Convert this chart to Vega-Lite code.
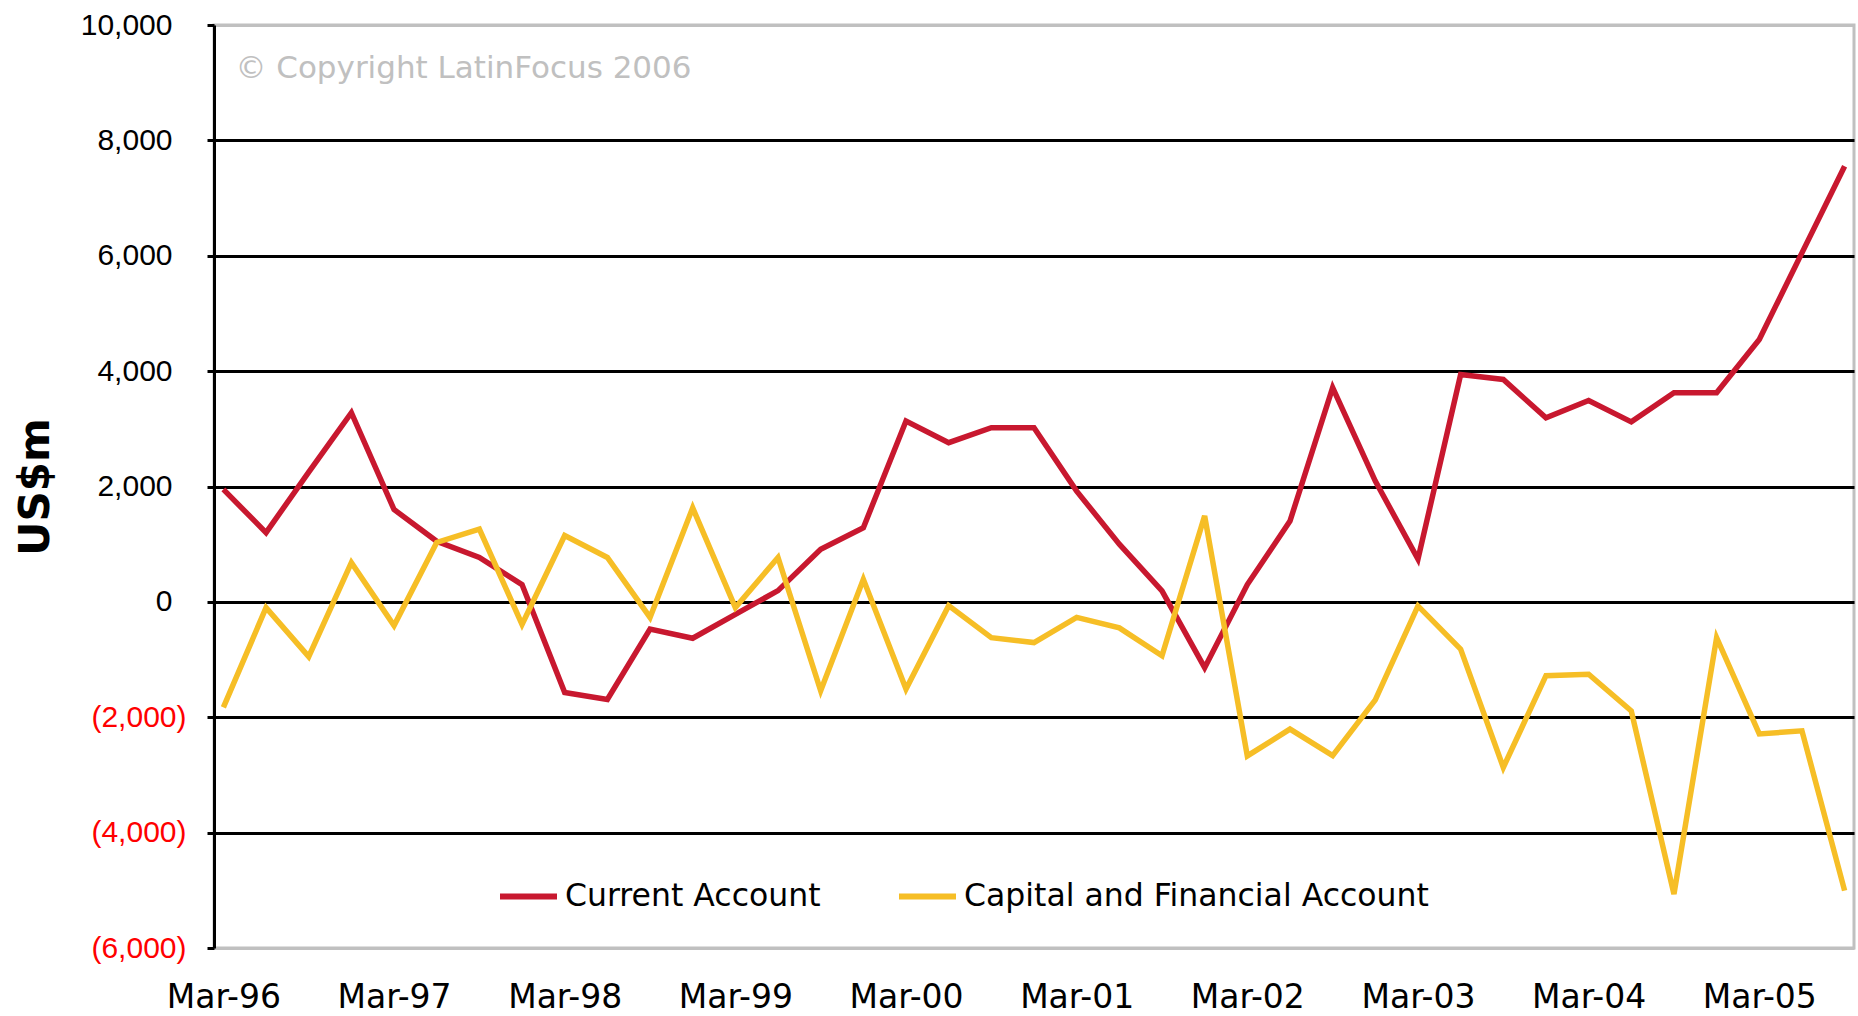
{
  "$schema": "https://vega.github.io/schema/vega-lite/v6.json",
  "autosize": {"type": "none"},
  "width": 1640,
  "height": 923,
  "padding": {"left": 214, "top": 25, "right": 4, "bottom": 68},
  "background": "white",
  "config": {
    "view": {"stroke": "#C0C0C0", "strokeWidth": 3},
    "font": "DejaVu Sans"
  },
  "data": {
    "values": [
      {"quarter": "Mar-96", "series": "Current Account", "value": 1950},
      {"quarter": "Jun-96", "series": "Current Account", "value": 1200},
      {"quarter": "Sep-96", "series": "Current Account", "value": 2250},
      {"quarter": "Dec-96", "series": "Current Account", "value": 3280},
      {"quarter": "Mar-97", "series": "Current Account", "value": 1600},
      {"quarter": "Jun-97", "series": "Current Account", "value": 1050},
      {"quarter": "Sep-97", "series": "Current Account", "value": 770},
      {"quarter": "Dec-97", "series": "Current Account", "value": 300},
      {"quarter": "Mar-98", "series": "Current Account", "value": -1570},
      {"quarter": "Jun-98", "series": "Current Account", "value": -1690},
      {"quarter": "Sep-98", "series": "Current Account", "value": -470},
      {"quarter": "Dec-98", "series": "Current Account", "value": -630},
      {"quarter": "Mar-99", "series": "Current Account", "value": -215},
      {"quarter": "Jun-99", "series": "Current Account", "value": 195},
      {"quarter": "Sep-99", "series": "Current Account", "value": 910},
      {"quarter": "Dec-99", "series": "Current Account", "value": 1285},
      {"quarter": "Mar-00", "series": "Current Account", "value": 3135},
      {"quarter": "Jun-00", "series": "Current Account", "value": 2760},
      {"quarter": "Sep-00", "series": "Current Account", "value": 3020},
      {"quarter": "Dec-00", "series": "Current Account", "value": 3020},
      {"quarter": "Mar-01", "series": "Current Account", "value": 1920},
      {"quarter": "Jun-01", "series": "Current Account", "value": 1000},
      {"quarter": "Sep-01", "series": "Current Account", "value": 190},
      {"quarter": "Dec-01", "series": "Current Account", "value": -1140},
      {"quarter": "Mar-02", "series": "Current Account", "value": 300},
      {"quarter": "Jun-02", "series": "Current Account", "value": 1400},
      {"quarter": "Sep-02", "series": "Current Account", "value": 3715},
      {"quarter": "Dec-02", "series": "Current Account", "value": 2095},
      {"quarter": "Mar-03", "series": "Current Account", "value": 740},
      {"quarter": "Jun-03", "series": "Current Account", "value": 3940},
      {"quarter": "Sep-03", "series": "Current Account", "value": 3855},
      {"quarter": "Dec-03", "series": "Current Account", "value": 3190},
      {"quarter": "Mar-04", "series": "Current Account", "value": 3490},
      {"quarter": "Jun-04", "series": "Current Account", "value": 3120},
      {"quarter": "Sep-04", "series": "Current Account", "value": 3625},
      {"quarter": "Dec-04", "series": "Current Account", "value": 3625},
      {"quarter": "Mar-05", "series": "Current Account", "value": 4550},
      {"quarter": "Jun-05", "series": "Current Account", "value": 6050},
      {"quarter": "Sep-05", "series": "Current Account", "value": 7550},
      {"quarter": "Mar-96", "series": "Capital and Financial Account", "value": -1830},
      {"quarter": "Jun-96", "series": "Capital and Financial Account", "value": -100},
      {"quarter": "Sep-96", "series": "Capital and Financial Account", "value": -950},
      {"quarter": "Dec-96", "series": "Capital and Financial Account", "value": 680},
      {"quarter": "Mar-97", "series": "Capital and Financial Account", "value": -410},
      {"quarter": "Jun-97", "series": "Capital and Financial Account", "value": 1030},
      {"quarter": "Sep-97", "series": "Capital and Financial Account", "value": 1260},
      {"quarter": "Dec-97", "series": "Capital and Financial Account", "value": -390},
      {"quarter": "Mar-98", "series": "Capital and Financial Account", "value": 1150},
      {"quarter": "Jun-98", "series": "Capital and Financial Account", "value": 770},
      {"quarter": "Sep-98", "series": "Capital and Financial Account", "value": -270},
      {"quarter": "Dec-98", "series": "Capital and Financial Account", "value": 1630},
      {"quarter": "Mar-99", "series": "Capital and Financial Account", "value": -100},
      {"quarter": "Jun-99", "series": "Capital and Financial Account", "value": 770},
      {"quarter": "Sep-99", "series": "Capital and Financial Account", "value": -1540},
      {"quarter": "Dec-99", "series": "Capital and Financial Account", "value": 390},
      {"quarter": "Mar-00", "series": "Capital and Financial Account", "value": -1510},
      {"quarter": "Jun-00", "series": "Capital and Financial Account", "value": -65},
      {"quarter": "Sep-00", "series": "Capital and Financial Account", "value": -620},
      {"quarter": "Dec-00", "series": "Capital and Financial Account", "value": -705},
      {"quarter": "Mar-01", "series": "Capital and Financial Account", "value": -270},
      {"quarter": "Jun-01", "series": "Capital and Financial Account", "value": -450},
      {"quarter": "Sep-01", "series": "Capital and Financial Account", "value": -935},
      {"quarter": "Dec-01", "series": "Capital and Financial Account", "value": 1490},
      {"quarter": "Mar-02", "series": "Capital and Financial Account", "value": -2670},
      {"quarter": "Jun-02", "series": "Capital and Financial Account", "value": -2205},
      {"quarter": "Sep-02", "series": "Capital and Financial Account", "value": -2665},
      {"quarter": "Dec-02", "series": "Capital and Financial Account", "value": -1700},
      {"quarter": "Mar-03", "series": "Capital and Financial Account", "value": -70},
      {"quarter": "Jun-03", "series": "Capital and Financial Account", "value": -820},
      {"quarter": "Sep-03", "series": "Capital and Financial Account", "value": -2870},
      {"quarter": "Dec-03", "series": "Capital and Financial Account", "value": -1280},
      {"quarter": "Mar-04", "series": "Capital and Financial Account", "value": -1255},
      {"quarter": "Jun-04", "series": "Capital and Financial Account", "value": -1890},
      {"quarter": "Sep-04", "series": "Capital and Financial Account", "value": -5065},
      {"quarter": "Dec-04", "series": "Capital and Financial Account", "value": -620},
      {"quarter": "Mar-05", "series": "Capital and Financial Account", "value": -2290},
      {"quarter": "Jun-05", "series": "Capital and Financial Account", "value": -2235},
      {"quarter": "Sep-05", "series": "Capital and Financial Account", "value": -5005}
    ]
  },
  "layer": [
    {
      "mark": {"type": "line", "strokeWidth": 5.5, "strokeJoin": "miter"},
      "encoding": {
        "x": {
          "field": "quarter",
          "type": "ordinal",
          "sort": null,
          "scale": {"type": "point", "padding": 0.22},
          "axis": {
            "values": ["Mar-96", "Mar-97", "Mar-98", "Mar-99", "Mar-00", "Mar-01", "Mar-02", "Mar-03", "Mar-04", "Mar-05"],
            "title": null,
            "ticks": false,
            "domain": false,
            "grid": false,
            "labelAngle": 0,
            "labelFontSize": 33,
            "labelColor": "black",
            "labelPadding": 33
          }
        },
        "y": {
          "field": "value",
          "type": "quantitative",
          "scale": {"domain": [-6000, 10000], "nice": false, "zero": false},
          "axis": {
            "values": [-6000, -4000, -2000, 0, 2000, 4000, 6000, 8000, 10000],
            "title": "US$m",
            "titleFontSize": 42,
            "titleFontWeight": "bold",
            "titleColor": "black",
            "titlePadding": 23,
            "labelFont": "Liberation Sans",
            "labelExpr": "datum.value < 0 ? '(' + format(-datum.value, ',') + ')' : format(datum.value, ',')",
            "labelColor": {"condition": {"test": "datum.value < 0", "value": "#FF0000"}, "value": "black"},
            "labelFontSize": 30,
            "labelPadding": {"condition": {"test": "datum.value < 0", "value": 21}, "value": 35},
            "tickSize": 7,
            "tickWidth": 3,
            "tickColor": "black",
            "domainColor": "black",
            "domainWidth": 3,
            "grid": true,
            "gridColor": {"condition": {"test": "datum.value == 10000 || datum.value == -6000", "value": "#C0C0C0"}, "value": "black"},
            "gridWidth": 3,
            "gridOpacity": 1
          }
        },
        "color": {
          "field": "series",
          "type": "nominal",
          "scale": {
            "domain": ["Current Account", "Capital and Financial Account"],
            "range": ["#C8182F", "#F6BE26"]
          },
          "legend": {
            "orient": "none",
            "legendX": 283,
            "legendY": 840,
            "direction": "horizontal",
            "title": null,
            "symbolType": "stroke",
            "symbolStrokeWidth": 6,
            "symbolSize": 3249,
            "labelFontSize": 31.5,
            "labelColor": "black",
            "labelLimit": 0,
            "labelOffset": 5,
            "columnPadding": 66
          }
        }
      }
    },
    {
      "data": {"values": [{"note": "© Copyright LatinFocus 2006"}]},
      "mark": {"type": "text", "align": "left", "baseline": "middle", "dx": 12, "fontSize": 31, "color": "#C0C0C0"},
      "encoding": {
        "x": {"datum": "Mar-96", "type": "ordinal"},
        "y": {"datum": 9240, "type": "quantitative"},
        "text": {"field": "note"}
      }
    }
  ]
}
